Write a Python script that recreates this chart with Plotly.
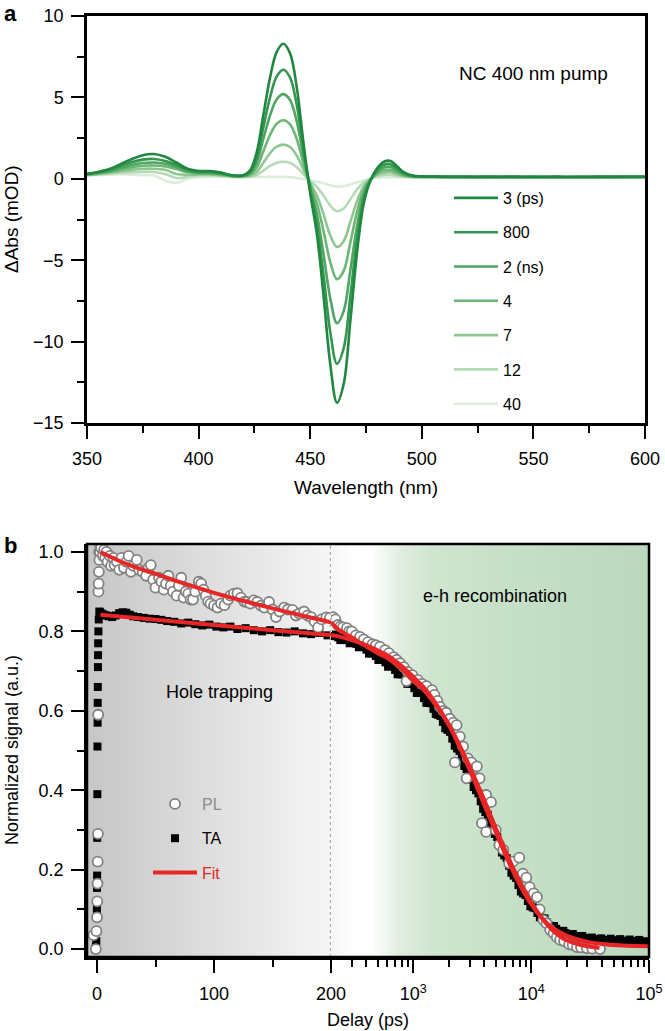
import numpy as np
import plotly.graph_objects as go

# ---------------- Panel a data: TA spectra ----------------
WL = [350, 355, 360, 365, 370, 375, 380, 385, 390, 395, 400, 405, 410, 415, 420,
      423, 426, 429, 432, 435, 438, 441, 444, 447, 450, 453, 456, 459, 462, 465,
      468, 471, 474, 477, 480, 483, 486, 489, 492,
      496, 500,
      510, 520, 530, 540, 550, 560, 570, 580, 590, 600]

S_3PS = [0.30, 0.42, 0.60, 0.90, 1.20, 1.45, 1.52, 1.35, 1.00, 0.62, 0.48, 0.48, 0.38, 0.22, 0.22,
         0.50, 1.60, 3.90, 6.20, 7.80, 8.30, 7.70, 5.60, 2.20, -0.90, -3.40, -7.20, -11.40, -13.75, -12.60,
         -8.70, -4.50, -1.50, -0.10, 0.65, 1.05, 1.10, 0.75, 0.40,
         0.20, 0.15,
         0.13, 0.12, 0.12, 0.12, 0.11, 0.12, 0.11, 0.12, 0.12, 0.13]
S_800 = [0.30, 0.40, 0.55, 0.78, 1.02, 1.18, 1.22, 1.10, 0.85, 0.55, 0.42, 0.42, 0.33, 0.20, 0.20,
         0.40, 1.29, 3.15, 5.00, 6.29, 6.70, 6.21, 4.52, 1.78, -0.66, -2.81, -5.95, -9.42, -11.36, -10.41,
         -7.19, -3.72, -1.24, -0.08, 0.53, 0.86, 0.90, 0.62, 0.33,
         0.17, 0.14,
         0.12, 0.12, 0.11, 0.12, 0.12, 0.11, 0.12, 0.12, 0.11, 0.12]
S_2NS = [0.28, 0.36, 0.48, 0.66, 0.85, 0.97, 1.00, 0.92, 0.72, 0.48, 0.38, 0.38, 0.30, 0.18, 0.18,
         0.32, 1.00, 2.45, 3.89, 4.89, 5.20, 4.83, 3.51, 1.38, -0.52, -2.19, -4.64, -7.35, -8.87, -8.13,
         -5.61, -2.90, -0.97, -0.06, 0.43, 0.69, 0.72, 0.50, 0.27,
         0.15, 0.13,
         0.12, 0.11, 0.12, 0.11, 0.12, 0.12, 0.11, 0.12, 0.12, 0.12]
S_4NS = [0.26, 0.33, 0.42, 0.56, 0.70, 0.80, 0.82, 0.76, 0.60, 0.40, 0.32, 0.32, 0.26, 0.16, 0.16,
         0.25, 0.69, 1.69, 2.69, 3.39, 3.60, 3.34, 2.43, 0.95, -0.36, -1.53, -3.23, -5.12, -6.17, -5.66,
         -3.91, -2.02, -0.67, -0.04, 0.32, 0.52, 0.55, 0.38, 0.22,
         0.13, 0.12,
         0.11, 0.12, 0.11, 0.12, 0.11, 0.11, 0.12, 0.11, 0.12, 0.12]
S_7NS = [0.24, 0.30, 0.37, 0.46, 0.55, 0.61, 0.62, 0.55, 0.30, 0.25, 0.26, 0.27, 0.22, 0.14, 0.14,
         0.18, 0.40, 0.99, 1.57, 1.97, 2.10, 1.95, 1.42, 0.56, -0.27, -1.03, -2.19, -3.47, -4.18, -3.83,
         -2.64, -1.37, -0.46, -0.03, 0.24, 0.38, 0.40, 0.28, 0.17,
         0.12, 0.11,
         0.11, 0.11, 0.12, 0.11, 0.11, 0.12, 0.11, 0.11, 0.12, 0.11]
S_12NS = [0.22, 0.26, 0.31, 0.36, 0.40, 0.42, 0.42, 0.30, 0.05, 0.12, 0.20, 0.22, 0.18, 0.12, 0.12,
          0.14, 0.22, 0.50, 0.79, 0.99, 1.05, 0.98, 0.71, 0.28, -0.13, -0.49, -1.04, -1.65, -1.99, -1.83,
          -1.26, -0.65, -0.22, 0.00, 0.15, 0.24, 0.25, 0.18, 0.13,
          0.11, 0.10,
          0.10, 0.11, 0.10, 0.11, 0.10, 0.11, 0.10, 0.10, 0.11, 0.10]
S_40NS = [0.20, 0.22, 0.25, 0.28, 0.25, 0.22, 0.20, -0.10, -0.25, 0.00, 0.10, 0.12, 0.12, 0.10, 0.10,
          0.10, 0.11, 0.12, 0.12, 0.12, 0.12, 0.10, 0.05, -0.02, -0.10, -0.18, -0.28, -0.40, -0.48, -0.45,
          -0.35, -0.22, -0.10, 0.00, 0.05, 0.08, 0.09, 0.09, 0.09,
          0.09, 0.09,
          0.09, 0.10, 0.09, 0.10, 0.09, 0.09, 0.10, 0.09, 0.10, 0.09]

SPEC_LABELS = ["3 (ps)", "800", "2 (ns)", "4", "7", "12", "40"]
SPEC_SERIES = [S_3PS, S_800, S_2NS, S_4NS, S_7NS, S_12NS, S_40NS]
SPEC_COLORS = ["rgb(31,135,64)", "rgb(52,150,78)", "rgb(78,166,95)", "rgb(108,182,118)",
               "rgb(142,198,146)", "rgb(182,218,182)", "rgb(220,237,220)"]

# ---------------- Panel b data: kinetics ----------------
BREAK_PS = 200

# TA, linear part (ps)
TA_T_LIN = [-1.5, -1.0, -0.6, -0.3, -0.1, 0.0, 0.1, 0.2, 0.3, 0.4, 0.5, 0.6, 0.7, 0.8, 0.9, 1.0, 1.2, 1.5, 2.0,
            2.5, 4, 6, 8, 10, 13, 16, 19, 22, 25, 28, 31, 35, 40, 45, 50, 55, 60, 66, 72, 78, 84, 90, 96,
            102, 108, 114, 120, 127, 134, 141, 148, 155, 162, 169, 176, 183, 190, 197]
TA_V_LIN = [0.0, 0.005, 0.02, 0.045, 0.10, 0.154, 0.185, 0.28, 0.39, 0.51, 0.57, 0.62, 0.66, 0.71, 0.74, 0.77, 0.80, 0.83, 0.85,
            0.848, 0.845, 0.842, 0.840, 0.838, 0.836, 0.840, 0.846, 0.848, 0.847, 0.842, 0.838, 0.836, 0.834, 0.832, 0.831,
            0.829, 0.826, 0.824, 0.820, 0.822, 0.818, 0.815, 0.817, 0.812, 0.810, 0.812, 0.806, 0.808, 0.803, 0.800,
            0.803, 0.798, 0.797, 0.800, 0.795, 0.793, 0.796, 0.790]
# TA, log part (ps)
TA_T_LOG = [210, 230, 250, 275, 300, 330, 360, 400, 440, 480, 530, 580, 640, 700, 770, 850, 930, 1020, 1120,
            1230, 1350, 1480, 1620, 1780, 1950, 2140, 2350, 2580, 2830, 3100, 3400, 3730, 4090, 4480, 4910,
            5390, 5910, 6480, 7110, 7800, 8550, 9380, 10300, 11300, 12400, 13600, 14900, 16300, 17900, 19600,
            21500, 23600, 25900, 28400, 31200, 34200, 37500, 41100, 45100, 49500, 54300, 59600, 65400, 71700,
            78700, 86300, 94700, 99000,
            220, 240, 262, 288, 315, 345, 380, 420, 460, 505, 555, 610, 670, 735, 810, 890, 975, 1070, 1175,
            1290, 1415, 1550, 1700, 1865, 2045, 2245, 2465, 2705, 2965, 3250, 3565, 3910, 4285, 4695, 5150,
            5650, 6195, 6795, 7455, 8175, 8965, 9840, 10800, 11850, 13000, 14250, 15600, 17100, 18750, 20550,
            22550, 24750, 27150, 29800, 32700, 35850, 39300, 43100, 47300, 51900, 56950, 62500, 68550, 75200,
            82500, 90500]
TA_V_LOG = [0.788, 0.785, 0.781, 0.778, 0.774, 0.768, 0.762, 0.754, 0.745, 0.738, 0.730, 0.722, 0.712, 0.703,
            0.692, 0.680, 0.668, 0.657, 0.645, 0.632, 0.620, 0.605, 0.590, 0.572, 0.552, 0.530, 0.505, 0.480,
            0.453, 0.427, 0.400, 0.372, 0.345, 0.318, 0.290, 0.262, 0.236, 0.210, 0.185, 0.161, 0.140, 0.121,
            0.105, 0.091, 0.078, 0.067, 0.058, 0.051, 0.045, 0.040, 0.036, 0.033, 0.030, 0.028, 0.026, 0.025,
            0.024, 0.023, 0.022, 0.022, 0.021, 0.021, 0.020, 0.020, 0.020, 0.019, 0.019, 0.019,
            0.792, 0.778, 0.785, 0.770, 0.777, 0.760, 0.764, 0.744, 0.748, 0.728, 0.732, 0.711, 0.714, 0.692,
            0.692, 0.668, 0.669, 0.645, 0.645, 0.620, 0.619, 0.592, 0.587, 0.556, 0.547, 0.512, 0.499, 0.461,
            0.446, 0.408, 0.392, 0.353, 0.338, 0.298, 0.282, 0.243, 0.229, 0.192, 0.179, 0.145, 0.136, 0.108,
            0.103, 0.080, 0.077, 0.059, 0.058, 0.044, 0.046, 0.034, 0.038, 0.027, 0.033, 0.023, 0.029, 0.020,
            0.027, 0.018, 0.026, 0.017, 0.025, 0.016, 0.024, 0.016, 0.023, 0.015]

# PL, linear part (ps)
PL_T_LIN = [-3, -1, -0.5, 0.0, 0.2, 0.4, 0.6, 0.8, 1.0, 1.2, 1.4, 1.6, 1.8, 2.0, 2.2,
            2.5, 3.5, 5, 6, 7, 8, 9, 11, 12, 14, 15, 17, 19, 21, 23, 25, 27, 29, 31, 34, 36, 39, 42, 44,
            46, 48, 50, 53, 55, 57, 59, 61, 63, 65, 68, 70, 72, 74, 76, 78, 80, 82, 84, 87, 89, 91, 93,
            95, 97, 100, 103, 106, 109, 112, 114, 117, 120, 123, 126, 128, 131, 134, 137, 140, 143, 147,
            150, 153, 156, 160, 163, 167, 170, 173, 177, 180, 183, 186, 189, 192, 196, 199]
PL_V_LIN = [0.035, 0.0, 0.045, 0.08, 0.12, 0.165, 0.22, 0.29, 0.59, 0.90, 0.92, 0.95, 1.00, 0.98, 1.02,
            1.00, 1.01, 0.99, 1.005, 0.985, 1.00, 0.975, 0.99, 0.965, 0.985, 0.967, 0.975, 0.955, 0.985,
            0.96, 0.975, 0.99, 0.95, 0.965, 0.98, 0.955, 0.95, 0.94, 0.96, 0.967, 0.93, 0.91, 0.935, 0.925,
            0.905, 0.92, 0.94, 0.915, 0.90, 0.89, 0.915, 0.935, 0.885, 0.90, 0.895, 0.88, 0.88, 0.90,
            0.925, 0.92, 0.905, 0.89, 0.875, 0.87, 0.865, 0.86, 0.87, 0.866, 0.88, 0.89, 0.895, 0.896,
            0.885, 0.875, 0.874, 0.87, 0.878, 0.874, 0.865, 0.86, 0.874, 0.855, 0.836, 0.85, 0.86, 0.855,
            0.854, 0.84, 0.845, 0.85, 0.84, 0.836, 0.825, 0.81, 0.83, 0.835, 0.834]
# PL, log part (ps)
PL_T_LOG = [208, 218, 229, 240, 252, 273, 285, 300, 325, 352, 380, 412, 450, 480, 520, 575, 620, 680, 720,
            770, 830, 875, 895, 980, 1090, 1180, 1290, 1440, 1510, 1600, 1680, 1800, 1900, 2040, 2180, 2250,
            2330, 2480, 2640, 2830, 2900, 3100, 3300, 3460, 3650, 3820, 4150, 4150, 4560, 5000, 5370, 5800,
            6500, 7000, 7920, 8500, 9100, 9700, 10500, 11200, 11800, 12700, 13500, 14500, 15500, 16500,
            17600, 19000, 21000, 22500, 24400, 26500, 29700, 33000, 38400]
PL_V_LOG = [0.836, 0.83, 0.816, 0.812, 0.81, 0.808, 0.80, 0.80, 0.79, 0.786, 0.78, 0.773, 0.768, 0.765,
            0.761, 0.753, 0.745, 0.735, 0.728, 0.72, 0.71, 0.675, 0.698, 0.69, 0.678, 0.668, 0.662, 0.652,
            0.64, 0.625, 0.61, 0.60, 0.595, 0.58, 0.57, 0.47, 0.564, 0.535, 0.51, 0.43, 0.48, 0.47, 0.455,
            0.46, 0.43, 0.317, 0.388, 0.295, 0.37, 0.30, 0.262, 0.25, 0.216, 0.22, 0.23, 0.19, 0.18, 0.156,
            0.14, 0.131, 0.10, 0.073, 0.065, 0.048, 0.04, 0.03, 0.023, 0.02, 0.012, 0.01, 0.005, 0.004,
            0.002, 0.001, 0.0]

# Fits
FIT_PL_T_LIN = [3, 25, 50, 75, 100, 125, 150, 175, 200]
FIT_PL_V_LIN = [1.0, 0.97, 0.945, 0.92, 0.897, 0.877, 0.858, 0.84, 0.823]
FIT_TA_T_LIN = [3, 50, 100, 150, 200]
FIT_TA_V_LIN = [0.842, 0.829, 0.816, 0.803, 0.791]
FIT_PL_T_LOG = [200, 230, 260, 300, 350, 400, 500, 600, 800, 1000, 1200, 1500, 2000, 2500, 3000, 3500,
                4000, 5000, 6000, 7000, 8000, 9000, 10000, 12000, 14000, 17000, 20000, 25000, 30000, 38000]
FIT_PL_V_LOG = [0.823, 0.805, 0.795, 0.785, 0.772, 0.762, 0.745, 0.733, 0.705, 0.675, 0.655, 0.62, 0.565,
                0.51, 0.46, 0.415, 0.375, 0.305, 0.25, 0.205, 0.17, 0.142, 0.118, 0.083, 0.058, 0.035,
                0.022, 0.012, 0.007, 0.003]
FIT_TA_T_LOG = [200, 250, 300, 400, 500, 600, 800, 1000, 1200, 1500, 2000, 2500, 3000, 3500, 4000, 5000,
                6000, 7000, 8000, 9000, 10000, 12000, 14000, 17000, 20000, 25000, 30000, 40000, 60000, 100000]
FIT_TA_V_LOG = [0.791, 0.785, 0.778, 0.765, 0.752, 0.74, 0.712, 0.685, 0.662, 0.625, 0.565, 0.505, 0.452,
                0.405, 0.363, 0.295, 0.24, 0.196, 0.162, 0.135, 0.113, 0.082, 0.062, 0.044, 0.034, 0.024,
                0.018, 0.013, 0.009, 0.007]

LOG_MAJOR = [1000, 10000, 100000]
LOG_MAJOR_TEXT = ["10<sup>3</sup>", "10<sup>4</sup>", "10<sup>5</sup>"]
LOG_MINOR = [300, 400, 500, 600, 700, 800, 900,
             2000, 3000, 4000, 5000, 6000, 7000, 8000, 9000,
             20000, 30000, 40000, 50000, 60000, 70000, 80000, 90000]

# ---------------- figure ----------------
W, H = 665, 1031
FONT = "Liberation Sans, Arial, Helvetica, sans-serif"

def px_x(p):
    return p / W

def px_y(p):
    return 1 - p / H

XA_DOM = [px_x(87), px_x(645)]
YA_DOM = [px_y(423), px_y(16)]
XB1_DOM = [px_x(87), px_x(331)]
XB2_DOM = [px_x(331), px_x(649)]
YB_DOM = [px_y(957), px_y(544)]

fig = go.Figure()

# panel a curves (lightest first, darkest on top)
for i in reversed(range(len(SPEC_SERIES))):
    fig.add_trace(go.Scatter(
        x=WL, y=SPEC_SERIES[i], mode="lines", line=dict(color=SPEC_COLORS[i], width=2.6, shape="spline"),
        name=SPEC_LABELS[i], legend="legend", legendgroup="s%d" % i, legendrank=i + 1,
        xaxis="x", yaxis="y", hoverinfo="skip"))

# panel b background gradients
gx = np.linspace(-10, 201, 160)
fig.add_trace(go.Heatmap(
    x=gx, y=[-0.05, 1.05], z=[gx, gx], zmin=-8.55, zmax=200, showscale=False, hoverinfo="skip",
    colorscale=[[0, "rgb(198,198,198)"], [0.5, "rgb(222,222,222)"], [1, "rgb(246,246,246)"]],
    xaxis="x2", yaxis="y2", showlegend=False))
lx = np.logspace(2.28, 5.02, 240)
lz = np.log10(lx)
fig.add_trace(go.Heatmap(
    x=lx, y=[-0.05, 1.05], z=[lz, lz], zmin=np.log10(BREAK_PS), zmax=5, showscale=False, hoverinfo="skip",
    colorscale=[[0, "rgb(245,245,245)"], [0.07, "rgb(255,255,255)"], [0.13, "rgb(255,255,255)"],
                [0.22, "rgb(224,237,224)"], [0.32, "rgb(208,229,208)"], [0.55, "rgb(199,224,200)"],
                [1, "rgb(187,215,190)"]],
    xaxis="x3", yaxis="y2", showlegend=False))

TA_MARK = dict(symbol="square", size=8, color="black", line=dict(width=0))
PL_MARK = dict(symbol="circle", size=10, color="white", line=dict(color="rgb(130,130,130)", width=1.8))
RED = "rgb(232,38,38)"

fig.add_trace(go.Scatter(x=TA_T_LIN, y=TA_V_LIN, mode="markers", marker=TA_MARK, name="TA",
                         legend="legend2", legendgroup="ta", legendrank=2, xaxis="x2", yaxis="y2",
                         hoverinfo="skip", cliponaxis=True))
fig.add_trace(go.Scatter(x=TA_T_LOG, y=TA_V_LOG, mode="markers", marker=TA_MARK, name="TA",
                         legend="legend2", legendgroup="ta", showlegend=False, xaxis="x3", yaxis="y2",
                         hoverinfo="skip", cliponaxis=True))
fig.add_trace(go.Scatter(x=PL_T_LIN, y=PL_V_LIN, mode="markers", marker=PL_MARK,
                         name="<span style='color:rgb(140,140,140)'>PL</span>",
                         legend="legend2", legendgroup="pl", legendrank=1, xaxis="x2", yaxis="y2",
                         hoverinfo="skip", cliponaxis=True))
fig.add_trace(go.Scatter(x=PL_T_LOG, y=PL_V_LOG, mode="markers", marker=PL_MARK, name="PL",
                         legend="legend2", legendgroup="pl", showlegend=False, xaxis="x3", yaxis="y2",
                         hoverinfo="skip", cliponaxis=True))
for (tx, vy, ax, show) in [(FIT_PL_T_LIN, FIT_PL_V_LIN, "x2", True), (FIT_TA_T_LIN, FIT_TA_V_LIN, "x2", False),
                           (FIT_PL_T_LOG, FIT_PL_V_LOG, "x3", False), (FIT_TA_T_LOG, FIT_TA_V_LOG, "x3", False)]:
    fig.add_trace(go.Scatter(x=tx, y=vy, mode="lines", line=dict(color=RED, width=4, shape="spline"),
                             name="<span style='color:" + RED + "'>Fit</span>", legend="legend2",
                             legendgroup="fit", legendrank=3, showlegend=show, xaxis=ax, yaxis="y2",
                             hoverinfo="skip"))

tickfont = dict(family=FONT, size=18, color="black")
common = dict(showgrid=False, zeroline=False, showline=True, linecolor="black", linewidth=2.5,
              ticks="outside", ticklen=13, tickwidth=2, tickcolor="black", tickfont=tickfont,
              automargin=False)

fig.update_layout(
    template="none",
    width=W, height=H, autosize=False,
    margin=dict(l=0, r=0, t=0, b=0, pad=0),
    paper_bgcolor="white", plot_bgcolor="white",
    font=dict(family=FONT, size=18, color="black"),
    xaxis=dict(domain=XA_DOM, range=[350, 600], anchor="y", mirror=True, dtick=50, tick0=350,
               minor=dict(dtick=25, ticks="outside", ticklen=7, tickwidth=2, tickcolor="black"),
               ticklabelstandoff=5, **common),
    yaxis=dict(domain=YA_DOM, range=[-15, 10], anchor="x", mirror=True, dtick=5, tick0=0,
               minor=dict(dtick=2.5, ticks="outside", ticklen=7, tickwidth=2, tickcolor="black"),
               ticklabelstandoff=4, **common),
    xaxis2=dict(domain=XB1_DOM, range=[-8.55, BREAK_PS], anchor="y2", dtick=100, tick0=0,
                minor=dict(dtick=50, ticks="outside", ticklen=7, tickwidth=2, tickcolor="black"),
                ticklabelstandoff=6, **common),
    xaxis3=dict(domain=XB2_DOM, type="log", range=[np.log10(BREAK_PS), 5], anchor="y2",
                tickmode="array", tickvals=LOG_MAJOR, ticktext=LOG_MAJOR_TEXT,
                minor=dict(tickmode="array", tickvals=LOG_MINOR, ticks="outside", ticklen=7, tickwidth=2,
                           tickcolor="black"),
                ticklabelstandoff=6, **common),
    yaxis2=dict(domain=YB_DOM, range=[-0.02, 1.02], anchor="x2", dtick=0.2, tick0=0, tickformat=".1f",
                minor=dict(dtick=0.1, ticks="outside", ticklen=7, tickwidth=2, tickcolor="black"),
                ticklabelstandoff=4, **common),
    legend=dict(x=px_x(449), y=px_y(181), xanchor="left", yanchor="top", bgcolor="rgba(0,0,0,0)",
                font=dict(family=FONT, size=16, color="black"), traceorder="grouped", tracegroupgap=10.5,
                itemwidth=44, borderwidth=0),
    legend2=dict(x=px_x(148), y=px_y(787), xanchor="left", yanchor="top", bgcolor="rgba(0,0,0,0)",
                 font=dict(family=FONT, size=16, color="black"), traceorder="grouped", tracegroupgap=10.5,
                 itemwidth=44, borderwidth=0),
    shapes=[
        dict(type="line", xref="x2", yref="y2 domain", x0=BREAK_PS, x1=BREAK_PS, y0=0, y1=1,
             line=dict(color="rgb(175,175,175)", width=2.5, dash="dot"), layer="above"),
        dict(type="rect", xref="paper", yref="paper", x0=XB1_DOM[0], x1=XB2_DOM[1], y0=YB_DOM[0], y1=YB_DOM[1],
             line=dict(color="black", width=2.5), layer="above"),
    ],
    annotations=[
        dict(text="<b>a</b>", x=px_x(2), y=px_y(14), xref="paper", yref="paper", xanchor="left", yanchor="middle",
             showarrow=False, font=dict(family=FONT, size=22, color="black")),
        dict(text="<b>b</b>", x=px_x(2), y=px_y(545), xref="paper", yref="paper", xanchor="left", yanchor="middle",
             showarrow=False, font=dict(family=FONT, size=22, color="black")),
        dict(text="NC 400 nm pump", x=px_x(457), y=px_y(73), xref="paper", yref="paper", xanchor="left",
             yanchor="middle", showarrow=False, font=dict(family=FONT, size=19, color="black")),
        dict(text="Wavelength (nm)", x=px_x(366), y=px_y(487), xref="paper", yref="paper", xanchor="center",
             yanchor="middle", showarrow=False, font=dict(family=FONT, size=19, color="black")),
        dict(text="ΔAbs (mOD)", x=px_x(11), y=px_y(219), xref="paper", yref="paper", xanchor="center",
             yanchor="middle", textangle=-90, showarrow=False, font=dict(family=FONT, size=19, color="black")),
        dict(text="Normalized signal (a.u.)", x=px_x(12), y=px_y(750), xref="paper", yref="paper",
             xanchor="center", yanchor="middle", textangle=-90, showarrow=False,
             font=dict(family=FONT, size=18, color="black")),
        dict(text="Delay (ps)", x=px_x(368), y=px_y(1020), xref="paper", yref="paper", xanchor="center",
             yanchor="middle", showarrow=False, font=dict(family=FONT, size=18, color="black")),
        dict(text="Hole trapping", x=px_x(219), y=px_y(692), xref="paper", yref="paper", xanchor="center",
             yanchor="middle", showarrow=False, font=dict(family=FONT, size=18, color="black")),
        dict(text="e-h recombination", x=px_x(495), y=px_y(596), xref="paper", yref="paper", xanchor="center",
             yanchor="middle", showarrow=False, font=dict(family=FONT, size=18, color="black")),
    ],
)

fig.write_html("out.html",
               config={"displayModeBar": False},
               post_script="document.body.style.margin='0';document.body.style.padding='0';"
                           "document.documentElement.style.overflow='hidden';")
